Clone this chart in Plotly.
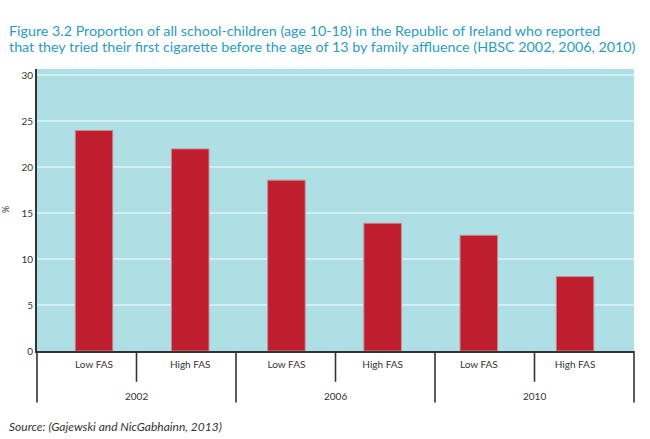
import plotly.graph_objects as go

years = ["2002", "2006", "2010"]
fas_labels = ["Low FAS", "High FAS", "Low FAS", "High FAS", "Low FAS", "High FAS"]
values = [24.0, 22.0, 18.6, 13.9, 12.6, 8.1]
y_ticks = [0, 5, 10, 15, 20, 25, 30]

title_line1 = "Figure 3.2 Proportion of all school-children (age 10-18) in the Republic of Ireland who reported"
title_line2 = "that they tried their first cigarette before the age of 13 by family affluence (HBSC 2002, 2006, 2010)"
source_text = "Source: (Gajewski and NicGabhainn, 2013)"

positions = list(range(len(values)))

fig = go.Figure()
fig.add_trace(go.Bar(
    x=positions, y=values,
    marker=dict(color="#be1e2d", line=dict(color="#c98a92", width=1)),
    width=0.39, hoverinfo="skip",
))

n = len(values)
shapes = []
for i in range(n + 1):
    outer = (i % 2 == 0)
    shapes.append(dict(type="line", xref="paper", yref="paper",
                       x0=i / n, x1=i / n, y0=0, y1=-0.183 if outer else -0.109,
                       line=dict(color="#333333", width=1.6)))

annotations = []
for k, yr in enumerate(years):
    annotations.append(dict(text=yr, xref="paper", yref="paper", x=(2 * k + 1) / n, y=-0.16,
                            showarrow=False, xanchor="center", yanchor="middle",
                            font=dict(family="Lato", size=10, color="#333333")))
annotations.append(dict(text="%", xref="paper", yref="paper", x=-0.066, y=0.5, textangle=-90,
                        showarrow=False, font=dict(family="Lato", size=9, color="#333333")))
annotations.append(dict(text=source_text, xref="paper", yref="paper", x=-0.05, y=-0.266,
                        xanchor="left", yanchor="middle", showarrow=False,
                        font=dict(family="Lato", size=12, color="#333333", style="italic")))
for line, ypx in [(title_line1, 31), (title_line2, 46)]:
    annotations.append(dict(text=line, xref="paper", yref="paper", x=-30 / 597,
                            y=1 + (69 - ypx) / 282, xanchor="left", yanchor="middle",
                            showarrow=False,
                            font=dict(family="Lato", size=14.3, color="#2b9cc4")))

fig.update_layout(
    width=650, height=439,
    margin=dict(l=37, r=16, t=69, b=88),
    paper_bgcolor="white", plot_bgcolor="#aedfe4",
    showlegend=False,
    xaxis=dict(range=[-0.5925, 5.613], tickvals=positions, ticktext=fas_labels,
               showgrid=False, zeroline=False, showline=True, linecolor="#333333", linewidth=1.6,
               ticks="", ticklabelstandoff=3, tickfont=dict(family="Lato", size=10, color="#333333")),
    yaxis=dict(range=[0, 30.7], tickvals=y_ticks, showgrid=True, gridcolor="#d3eef2", gridwidth=2,
               zeroline=False, showline=True, linecolor="#333333", linewidth=2, ticks="",
               tickfont=dict(family="Lato", size=10, color="#333333")),
    shapes=shapes, annotations=annotations,
)

fig.write_html("out.html", config={"displayModeBar": False},
               post_script="document.body.style.margin='0px';")
